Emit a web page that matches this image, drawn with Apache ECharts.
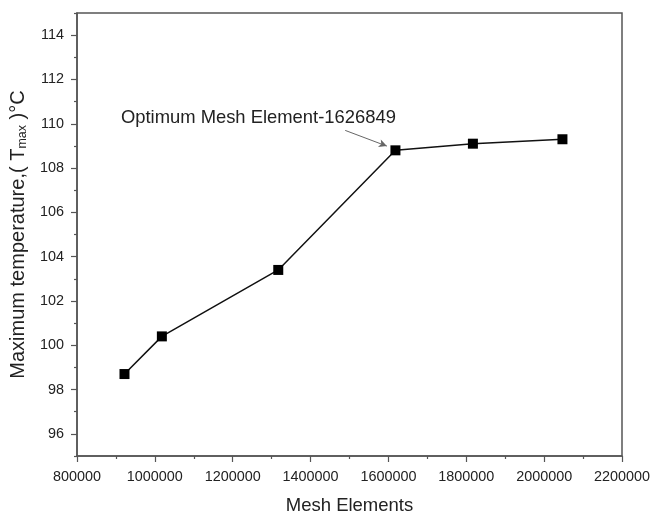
<!DOCTYPE html>
<html>
<head>
<meta charset="utf-8">
<script src="https://cdn.jsdelivr.net/npm/echarts@6/dist/echarts.min.js"></script>
<style>html,body{margin:0;padding:0;background:#fff;}#c{width:660px;height:514px;}</style>
</head>
<body>
<div id="c"></div>
<script>
const meshElements = [922000, 1018000, 1317000, 1618000, 1817000, 2047000];
const maxTemperature = [98.7, 100.4, 103.4, 108.8, 109.1, 109.3];
const yMajorTicks = [96, 98, 100, 102, 104, 106, 108, 110, 112, 114];
const yMinorTicks = [95, 97, 99, 101, 103, 105, 107, 109, 111, 113, 115];
const annotationText = 'Optimum Mesh Element-1626849';
const annotationTextAt = [1266000, 110.28];
const annotationArrowFrom = [1489000, 109.7];
const annotationArrowTo = [1596000, 108.99];

const FONT = 'Arial, "Liberation Sans", sans-serif';
const AX = '#555';
const TXT = '#222';

const chart = echarts.init(document.getElementById('c'), null, {renderer: 'canvas'});
chart.setOption({
  animation: false,
  backgroundColor: '#fff',
  grid: {left: 77, right: 38, top: 13, bottom: 58, outerBoundsMode: 'none', containLabel: false,
    show: true, borderColor: AX, borderWidth: 1.5, backgroundColor: 'transparent'},
  xAxis: {
    type: 'value', min: 800000, max: 2200000, interval: 200000,
    name: 'Mesh Elements', nameLocation: 'middle', nameGap: 40,
    nameTextStyle: {fontFamily: FONT, fontSize: 18.5, color: TXT},
    axisLine: {show: true, lineStyle: {color: AX, width: 1.5}},
    axisTick: {show: true, inside: false, length: 6, lineStyle: {color: AX, width: 1.2}},
    minorTick: {show: true, splitNumber: 2, length: 3, lineStyle: {color: AX, width: 1.2}},
    splitLine: {show: false},
    axisLabel: {fontFamily: FONT, fontSize: 14.4, color: TXT, margin: 14, showMinLabel: true, showMaxLabel: true,
      formatter: v => String(v)}
  },
  yAxis: [{
    type: 'value', min: 95, max: 115, interval: 1,
    name: 'Maximum temperature,( T{sub|max} )°C', nameLocation: 'middle', nameGap: 44,
    nameTextStyle: {fontFamily: FONT, fontSize: 20, color: TXT,
      rich: {sub: {fontFamily: FONT, fontSize: 12.5, color: TXT, verticalAlign: 'bottom', padding: [9, 0, 0, 0]}}},
    axisLine: {show: true, lineStyle: {color: AX, width: 1.5}},
    axisTick: {show: true, inside: false, length: 6, customValues: yMajorTicks, lineStyle: {color: AX, width: 1.2}},
    splitLine: {show: false},
    axisLabel: {fontFamily: FONT, fontSize: 14.4, color: TXT, margin: 13, customValues: yMajorTicks}
  }, {
    type: 'value', min: 95, max: 115, interval: 1, position: 'left',
    axisLine: {show: false},
    axisTick: {show: true, inside: false, length: 3, customValues: yMinorTicks, lineStyle: {color: AX, width: 1.2}},
    splitLine: {show: false},
    axisLabel: {show: false}
  }],
  series: [{
    type: 'line',
    data: meshElements.map((x, i) => [x, maxTemperature[i]]),
    symbol: 'rect', symbolSize: 10,
    itemStyle: {color: '#000'},
    lineStyle: {color: '#111', width: 1.5},
    markLine: {
      silent: true, symbol: ['none', 'arrow'], symbolSize: [6, 8],
      lineStyle: {color: '#666', width: 1, type: 'solid'},
      label: {show: false},
      data: [[{coord: annotationArrowFrom}, {coord: annotationArrowTo}]]
    },
    markPoint: {
      silent: true, symbol: 'circle', symbolSize: 0,
      label: {show: true, position: 'inside', formatter: annotationText, fontFamily: FONT, fontSize: 18.4, color: TXT},
      data: [{coord: annotationTextAt}]
    }
  }]
});
</script>
</body>
</html>
